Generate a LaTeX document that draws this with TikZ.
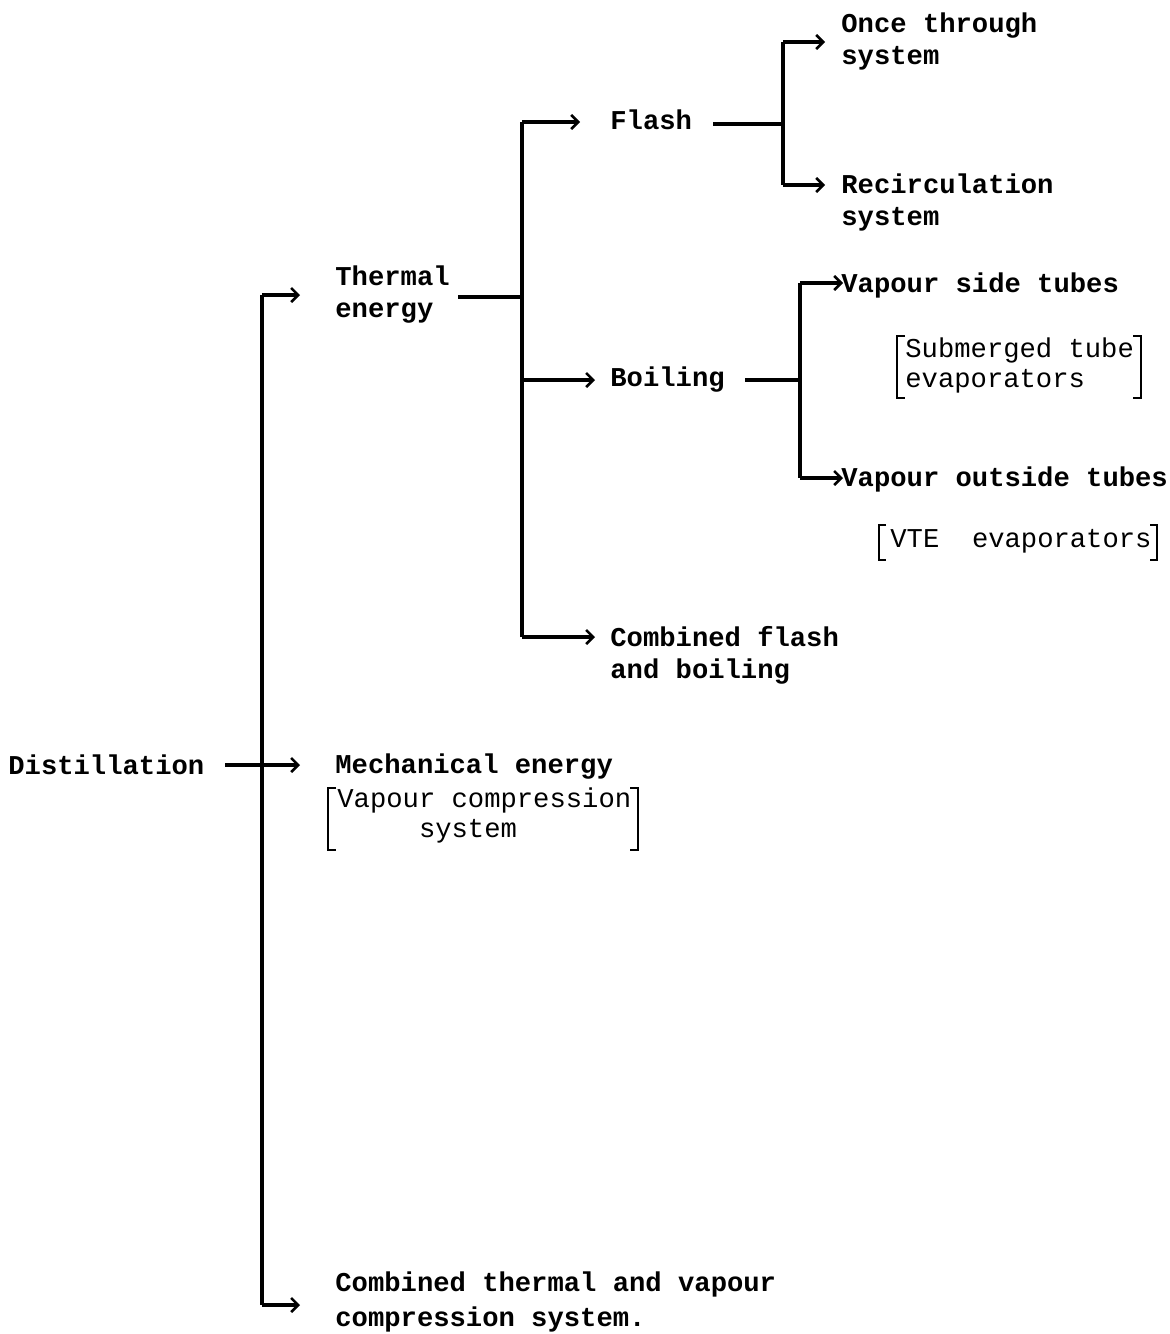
\documentclass[tikz,border=0pt]{standalone}
\usepackage{fontspec}
\setmainfont{Liberation Mono}
\usetikzlibrary{arrows.meta}
\tikzset{
  lbl/.style={font=\fontsize{13.6}{16}\selectfont\bfseries, inner sep=0pt, anchor=west, align=left},
  sub/.style={font=\fontsize{13.6}{15}\selectfont, inner sep=0pt, anchor=west, align=left},
  trunk/.style={line width=2.2pt},
  conn/.style={line width=2pt},
  arr/.style={line width=1.7pt, -{Straight Barb[length=3.5pt,width=7pt,line width=1.3pt]}},
  brk/.style={line width=1.4pt}
}
\begin{document}
\begin{tikzpicture}[x=0.5pt,y=-0.5pt]
\useasboundingbox (0,0) rectangle (1170,1334);
% text nodes
\node[lbl] (dist) at (8,765) {Distillation};
\node[lbl] (th) at (335,295) {Thermal\\energy};
\node[lbl] (mech) at (335,767) {Mechanical energy};
\node[sub] (vc) at (337,815) {Vapour compression\\\hspace*{5\fontcharwd\font`x}system};
\node[lbl, font=\fontsize{13.6}{17.5}\selectfont\bfseries] (cb) at (335,1302) {Combined thermal and vapour\\compression system.};
\node[lbl] (fl) at (610,120) {Flash};
\node[lbl] (bo) at (610,380) {Boiling};
\node[lbl] (cfb) at (610,655) {Combined flash\\and boiling};
\node[lbl] (ot) at (841,41) {Once through\\system};
\node[lbl] (rc) at (841,202) {Recirculation\\system};
\node[lbl] (vs) at (841,285) {Vapour side tubes};
\node[sub] (sm) at (905,365) {Submerged tube\\evaporators};
\node[lbl] (vo) at (841,479) {Vapour outside tubes};
\node[sub] (vte) at (890,541) {VTE\ \ evaporators};
% line start points beside the texts
\coordinate (dists) at (225,765);
\coordinate (ths) at (458,297);
\coordinate (fls) at (713,124);
\coordinate (bos) at (745,380);
% junction coordinates
\coordinate (t1a) at (262,295);
\coordinate (t1b) at (262,1305);
\coordinate (t2a) at (522,122);
\coordinate (t2b) at (522,637);
\coordinate (t2m) at (522,297);
\coordinate (t2c) at (522,380);
\coordinate (t3a) at (783,42);
\coordinate (t3b) at (783,185);
\coordinate (t3m) at (783,124);
\coordinate (t4a) at (800,283);
\coordinate (t4b) at (800,478);
\coordinate (t4m) at (800,380);
% arrow tips
\coordinate (e1) at (300,765);
\coordinate (e2) at (300,295);
\coordinate (e3) at (300,1305);
\coordinate (e4) at (580,122);
\coordinate (e5) at (595,380);
\coordinate (e6) at (595,637);
\coordinate (e7) at (825,42);
\coordinate (e8) at (825,185);
\coordinate (e9) at (843,283);
\coordinate (e10) at (843,478);
% trunks
\draw[trunk] (t1a) -- (t1b);
\draw[trunk] (t2a) -- (t2b);
\draw[trunk] (t3a) -- (t3b);
\draw[trunk] (t4a) -- (t4b);
% incoming lines
\draw[arr] (dists) -- (e1);
\draw[conn] (ths) -- (t2m);
\draw[conn] (fls) -- (t3m);
\draw[conn] (bos) -- (t4m);
% outgoing arrows
\draw[arr] (t1a) -- (e2);
\draw[arr] (t1b) -- (e3);
\draw[arr] (t2a) -- (e4);
\draw[arr] (t2c) -- (e5);
\draw[arr] (t2b) -- (e6);
\draw[arr] (t3a) -- (e7);
\draw[arr] (t3b) -- (e8);
\draw[arr] (t4a) -- (e9);
\draw[arr] (t4b) -- (e10);
% brackets
\draw[brk] (905,336) -- (897,336) -- (897,398) -- (905,398);
\draw[brk] (1133,336) -- (1141,336) -- (1141,398) -- (1133,398);
\draw[brk] (886,525) -- (879,525) -- (879,560) -- (886,560);
\draw[brk] (1150,525) -- (1157,525) -- (1157,560) -- (1150,560);
\draw[brk] (336,788) -- (328,788) -- (328,850) -- (336,850);
\draw[brk] (630,788) -- (638,788) -- (638,850) -- (630,850);
\end{tikzpicture}
\end{document}
